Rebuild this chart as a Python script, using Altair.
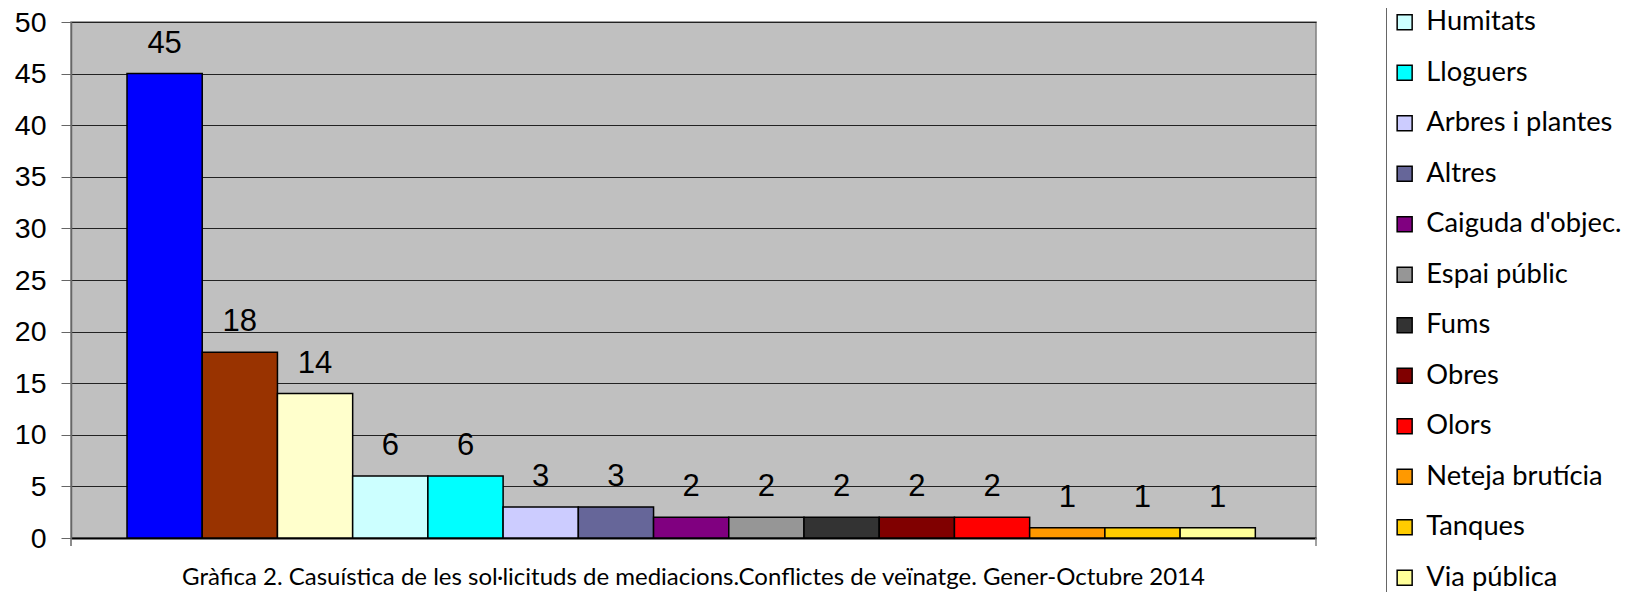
import altair as alt
import pandas as pd

# Category names (the first three are cut off in the source legend; not displayed)
categories = ["Categoria 1", "Categoria 2", "Categoria 3", "Humitats", "Lloguers",
              "Arbres i plantes", "Altres", "Caiguda d'objec.", "Espai públic", "Fums",
              "Obres", "Olors", "Neteja brutícia", "Tanques", "Via pública"]
values = [45, 18, 14, 6, 6, 3, 3, 2, 2, 2, 2, 2, 1, 1, 1]
colors = ["#0000FF", "#993300", "#FFFFCC", "#CCFFFF", "#00FFFF", "#CCCCFF", "#666699",
          "#800080", "#969696", "#333333", "#800000", "#FF0000", "#FF9900", "#FFCC00", "#FFFF99"]
legend_items = categories[3:]
y_ticks = [0, 5, 10, 15, 20, 25, 30, 35, 40, 45, 50]
caption = ["Gràfica 2. Casuística de les sol·licituds de mediacions.Conflictes de veïnatge. Gener-Octubre 2014"]

df = pd.DataFrame({"cat": categories, "val": values})
cap_df = pd.DataFrame({"t": caption})

W, H = 1245, 516
PAD_L, PAD_T = 63, 14
PAD_R = 1615 - PAD_L - W
PAD_B = 584 - PAD_T - H

x = alt.X("cat:N", sort=categories,
          scale=alt.Scale(paddingInner=0, paddingOuter=0.7755, align=0.48),
          axis=alt.Axis(title=None, labels=False, ticks=False,
                        domainColor="black", domainWidth=2))
y = alt.Y("val:Q", scale=alt.Scale(domain=[0, 50], nice=False, zero=True),
          axis=alt.Axis(title=None, values=y_ticks, grid=True, gridColor="#222222",
                        gridWidth=1, domainColor="#666666", domainWidth=1.5,
                        tickColor="#666666", tickSize=10, labelFont="Liberation Sans",
                        labelFontSize=28.5, labelPadding=15, labelColor="black"))
color = alt.Color("cat:N", scale=alt.Scale(domain=categories, range=colors),
                  legend=alt.Legend(values=legend_items, orient="none", legendX=1315,
                                    legendY=-18.5, title=None, direction="vertical",
                                    symbolType="square", symbolSize=225,
                                    symbolStrokeColor="black", symbolStrokeWidth=1.5,
                                    symbolOpacity=1, labelFont="Lato", labelFontSize=27.3,
                                    labelOffset=8, rowPadding=22.5, padding=5,
                                    strokeColor="#666666", fillColor="white",
                                    labelLimit=400, labelColor="black"))

bars = alt.Chart(df).mark_bar(stroke="black", strokeWidth=1.5, opacity=1).encode(
    x=x, y=y, color=color)
labels = alt.Chart(df).mark_text(dy=-21, baseline="alphabetic", font="Liberation Sans",
                                 fontSize=31, color="black").encode(
    x=alt.X("cat:N", sort=categories), y="val:Q", text="val:Q")
cap = alt.Chart(cap_df).mark_text(font="Lato", fontSize=24, color="black",
                                  align="center", baseline="middle").encode(
    x=alt.value(W / 2), y=alt.value(H + 40), text="t:N")
corner_left = alt.Chart(cap_df).mark_rule(color="#666666", strokeWidth=1.5).encode(
    x=alt.value(0), y=alt.value(H), y2=alt.value(H + 8))
corner_right = alt.Chart(cap_df).mark_rule(color="#808080", strokeWidth=1.5).encode(
    x=alt.value(W), y=alt.value(H), y2=alt.value(H + 8))

chart = (bars + labels + cap + corner_left + corner_right).properties(
    width=W, height=H,
    autosize=alt.AutoSizeParams(type="none"),
    padding={"left": PAD_L, "top": PAD_T, "right": PAD_R, "bottom": PAD_B},
).configure_view(fill="#C0C0C0", stroke="#808080", strokeWidth=1.5)

chart.save("out.html", embed_options={"renderer": "svg", "actions": False})
